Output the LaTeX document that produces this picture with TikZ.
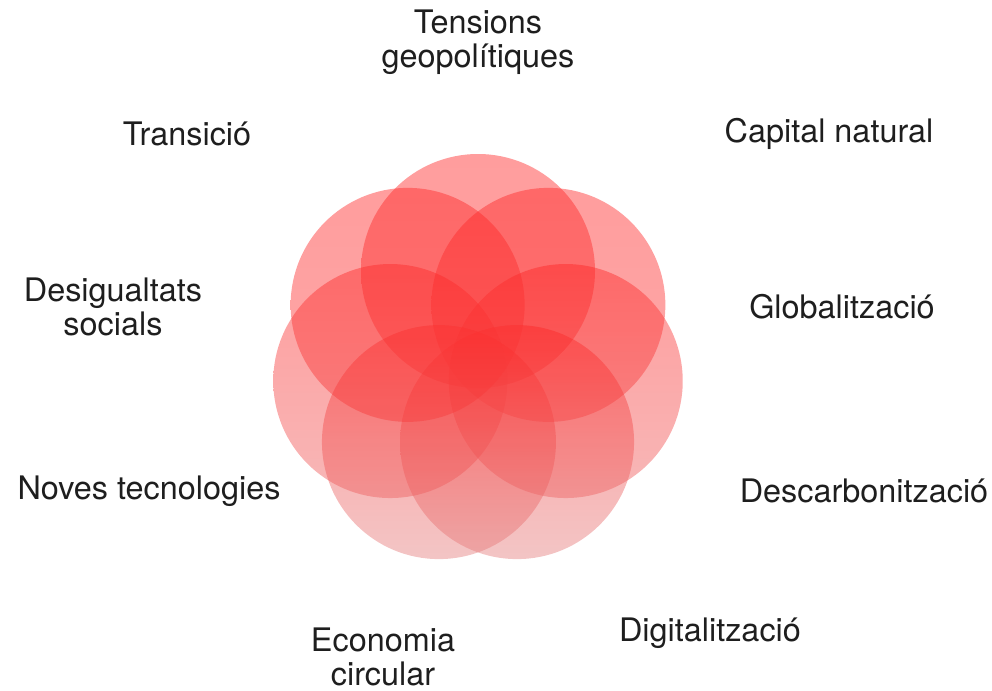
\documentclass[tikz,border=0pt]{standalone}
\usepackage{fontspec}
\setmainfont{TeX Gyre Heros}
\usepackage{tikz}
\usetikzlibrary{positioning}
\definecolor{petaltop}{RGB}{255,38,38}
\definecolor{petalbot}{RGB}{228,126,126}
\definecolor{labeltext}{RGB}{30,30,30}
\tikzset{
  petal/.style={fill opacity=0.45},
  lbl/.style={align=center, text=labeltext, font=\fontsize{16.2}{17}\selectfont, inner sep=0pt}
}
\begin{document}
\begin{tikzpicture}[x=0.5pt,y=0.5pt]
        \useasboundingbox (0,0) rectangle (992,-691);
        \coordinate (ctr) at (478,-361);
        % Draw the circles (redder at the top, paler at the bottom)
        \foreach \i/\fm/\fb in {0/0/10, 1/0/25, 2/5/65, 3/35/100, 4/35/100, 5/5/65, 6/0/25}
          \shade[petal, top color=petaltop, middle color=petalbot!\fm!petaltop,
                 bottom color=petalbot!\fb!petaltop]
            (ctr) ++({90-\i*360/7}:90) circle (117);
        % labels
        \node[lbl] (tens) at (478,-42) {Tensions\\geopolítiques};
        \node[lbl] (trans) at (187,-134) {Transició};
        \node[lbl] (capital) at (829,-134) {Capital natural};
        \node[lbl] (desig) at (113,-307) {Desigualtats\\socials};
        \node[lbl] (glob) at (842,-307) {Globalització};
        \node[lbl] (noves) at (149,-491) {Noves tecnologies};
        \node[lbl] (descarb) at (864,-491) {Descarbonització};
        \node[lbl] (econ) at (383,-657) {Economia\\circular};
        \node[lbl] (digit) at (710,-633) {Digitalització};
      \end{tikzpicture}
\end{document}
